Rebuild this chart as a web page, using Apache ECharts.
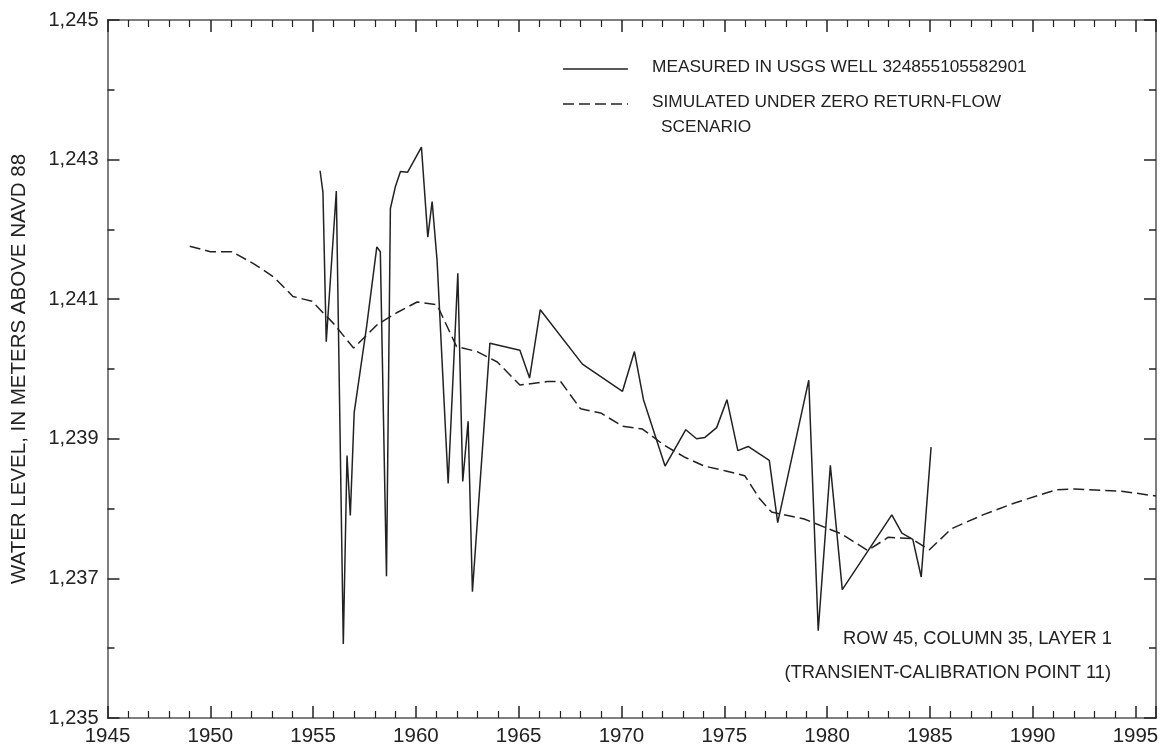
<!DOCTYPE html>
<html>
<head>
<meta charset="utf-8">
<script src="https://cdn.jsdelivr.net/npm/echarts@6/dist/echarts.min.js"></script>
<style>
html,body{margin:0;padding:0;background:#fff;}
#chart{width:1163px;height:751px;}
</style>
</head>
<body>
<div id="chart"></div>
<script>
// ---- Data ----
const measuredYears = [1955.34, 1955.48, 1955.64, 1956.13, 1956.47, 1956.65, 1956.81, 1957.0, 1957.6, 1958.1, 1958.27, 1958.57, 1958.76, 1959.0, 1959.25, 1959.6, 1960.27, 1960.58, 1960.79, 1961.03, 1961.57, 1962.04, 1962.28, 1962.54, 1962.75, 1963.6, 1965.06, 1965.53, 1966.05, 1968.1, 1970.05, 1970.63, 1971.07, 1972.12, 1973.13, 1973.65, 1974.06, 1974.63, 1975.13, 1975.66, 1976.16, 1977.19, 1977.6, 1979.11, 1979.57, 1980.16, 1980.74, 1983.15, 1983.64, 1984.17, 1984.58, 1985.06];
const measuredLevels = [1242.84, 1242.53, 1240.39, 1242.55, 1236.06, 1238.76, 1237.90, 1239.38, 1240.6, 1241.75, 1241.68, 1237.03, 1242.30, 1242.61, 1242.83, 1242.82, 1243.18, 1241.89, 1242.40, 1241.56, 1238.36, 1241.37, 1238.39, 1239.25, 1236.81, 1240.37, 1240.27, 1239.87, 1240.85, 1240.07, 1239.68, 1240.25, 1239.56, 1238.61, 1239.13, 1239.0, 1239.02, 1239.16, 1239.56, 1238.83, 1238.89, 1238.69, 1237.8, 1239.84, 1236.25, 1238.62, 1236.84, 1237.91, 1237.65, 1237.56, 1237.02, 1238.88];

const simulatedYears = [1949.0, 1950.0, 1951.05, 1952.1, 1953.08, 1954.02, 1954.95, 1956.0, 1956.97, 1958.1, 1959.09, 1960.06, 1961.03, 1961.98, 1962.98, 1963.96, 1965.06, 1966.39, 1967.04, 1968.01, 1968.99, 1970.05, 1971.02, 1972.07, 1973.05, 1974.02, 1975.08, 1976.0, 1976.7, 1977.3, 1978.89, 1980.68, 1981.98, 1982.98, 1984.09, 1984.98, 1986.04, 1987.58, 1989.12, 1991.15, 1992.04, 1994.32, 1996.0];
const simulatedLevels = [1241.76, 1241.68, 1241.68, 1241.51, 1241.32, 1241.04, 1240.97, 1240.65, 1240.30, 1240.63, 1240.81, 1240.96, 1240.92, 1240.32, 1240.25, 1240.10, 1239.77, 1239.82, 1239.82, 1239.43, 1239.37, 1239.18, 1239.14, 1238.91, 1238.74, 1238.61, 1238.54, 1238.47, 1238.15, 1237.95, 1237.85, 1237.64, 1237.40, 1237.59, 1237.57, 1237.41, 1237.71, 1237.91, 1238.08, 1238.27, 1238.28, 1238.25, 1238.18];

const xRange = [1945, 1996];
const yRange = [1235, 1245];
const xTickStep = 5;
const yTickStep = 2;

const seriesNames = ['MEASURED IN USGS WELL 324855105582901', 'SIMULATED UNDER ZERO RETURN-FLOW', 'SCENARIO'];
const yAxisTitle = 'WATER LEVEL, IN METERS ABOVE NAVD 88';
const noteLines = ['ROW 45, COLUMN 35, LAYER 1', '(TRANSIENT-CALIBRATION POINT 11)'];

const pairs = (xs, ys) => xs.map((x, i) => [x, ys[i]]);

const FONT = '"Liberation Sans", Arial, Helvetica, sans-serif';
const INK = '#222';
const AXIS_COLOR = '#555';

const chart = echarts.init(document.getElementById('chart'), null, {renderer: 'canvas'});

function xAxisCfg(pos, showLabels) {
  return {
    type: 'value', position: pos, min: xRange[0], max: xRange[1], interval: xTickStep,
    axisLine: {show: true, onZero: false, lineStyle: {color: AXIS_COLOR, width: 1.5}},
    axisTick: {show: true, inside: true, length: 12, lineStyle: {color: INK, width: 1.5}},
    minorTick: {show: true, splitNumber: 5, length: 7, lineStyle: {color: INK, width: 1.2}},
    splitLine: {show: false},
    axisLabel: {
      show: showLabels, margin: 8, color: INK, fontFamily: FONT, fontSize: 20.5,
      showMaxLabel: false,
      formatter: v => (Math.abs(v % xTickStep) < 1e-6 ? String(v) : '')
    }
  };
}
function yAxisCfg(pos, showLabels) {
  return {
    type: 'value', position: pos, min: yRange[0], max: yRange[1], interval: yTickStep,
    name: showLabels ? yAxisTitle : '', nameLocation: 'middle', nameRotate: 90, nameGap: 78,
    nameTextStyle: {color: INK, fontFamily: FONT, fontSize: 20.5},
    axisLine: {show: true, onZero: false, lineStyle: {color: AXIS_COLOR, width: 1.5}},
    axisTick: {show: true, inside: true, length: 12, lineStyle: {color: INK, width: 1.5}},
    minorTick: {show: true, splitNumber: 2, length: 7, lineStyle: {color: INK, width: 1.5}},
    splitLine: {show: false},
    axisLabel: {
      show: showLabels, margin: 9, color: INK, fontFamily: FONT, fontSize: 20,
      formatter: v => v.toLocaleString('en-US')
    }
  };
}

const option = {
  animation: false,
  backgroundColor: '#fff',
  grid: {left: 107.5, right: 7, top: 20, bottom: 33, containLabel: false},
  xAxis: [xAxisCfg('bottom', true), xAxisCfg('top', false)],
  yAxis: [yAxisCfg('left', true), yAxisCfg('right', false)],
  series: [
    {
      name: seriesNames[0], type: 'line', xAxisIndex: 0, yAxisIndex: 0,
      data: pairs(measuredYears, measuredLevels),
      showSymbol: false, symbol: 'none',
      lineStyle: {color: INK, width: 1.5}
    },
    {
      name: seriesNames[1], type: 'line', xAxisIndex: 0, yAxisIndex: 0,
      data: pairs(simulatedYears, simulatedLevels),
      showSymbol: false, symbol: 'none',
      lineStyle: {color: INK, width: 1.5, type: [11, 5]}
    }
  ],
  graphic: [
    {type: 'line', shape: {x1: 563, y1: 69, x2: 628, y2: 69}, style: {stroke: INK, lineWidth: 1.5}},
    {type: 'text', left: 652, top: 59, style: {text: seriesNames[0], fill: INK, font: '17.3px ' + FONT}},
    {type: 'line', shape: {x1: 563, y1: 104, x2: 628, y2: 104}, style: {stroke: INK, lineWidth: 1.5, lineDash: [11, 5]}},
    {type: 'text', left: 652, top: 94, style: {text: seriesNames[1], fill: INK, font: '17.3px ' + FONT}},
    {type: 'text', left: 661, top: 119, style: {text: seriesNames[2], fill: INK, font: '17.3px ' + FONT}},
    {type: 'text', right: 51, top: 630, style: {text: noteLines[0], fill: INK, font: '18.3px ' + FONT}},
    {type: 'text', right: 52, top: 664, style: {text: noteLines[1], fill: INK, font: '18.3px ' + FONT}}
  ]
};
chart.setOption(option);
</script>
</body>
</html>
